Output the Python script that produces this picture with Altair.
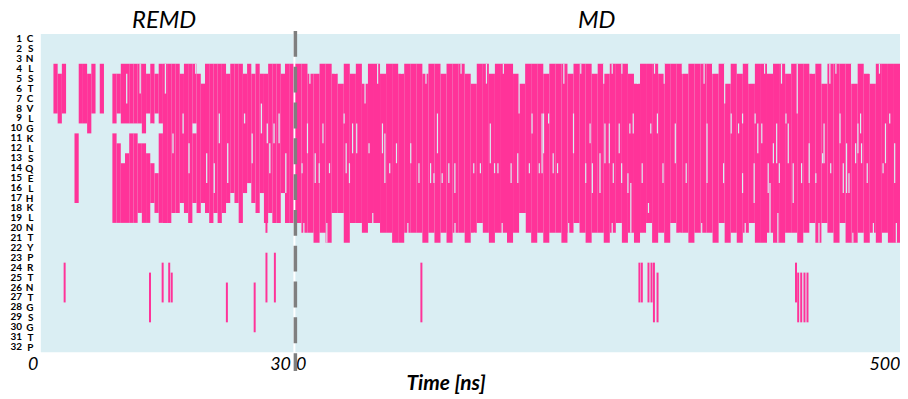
import json
import altair as alt
import pandas as pd

# ---------------- data ----------------
residues = list("CSNLSTCVLGKLSQELHKLNTYPRTNTGSGTP")
row_ids = list(range(1, 33))
panel_titles = ["REMD", "MD"]

# REMD (0-30 ns): contact strips, 0.5 ns columns (start time, first row, last row)
remd_t = [1.5, 2.0, 2.5, 4.0, 4.5, 5.0, 5.5, 6.0, 7.0,
          8.5, 8.5, 9.0, 9.0, 9.5, 9.5, 10.0, 10.0, 10.5, 10.5, 11.0, 11.0, 11.5, 11.5,
          12.0, 12.0, 12.5, 12.5, 13.0, 13.0, 13.5, 13.5, 14.0, 14.0,
          14.5, 15.0, 15.5, 16.0, 16.5, 17.0, 17.5, 18.0, 18.0, 18.5, 19.0, 19.5, 20.0,
          20.5, 21.0, 21.5, 22.0, 22.5, 23.0, 23.5, 24.0, 24.5, 25.0, 25.5, 26.0, 26.5,
          27.0, 27.5, 28.0, 28.5, 29.0, 29.5]
remd_top = [4, 5, 4, 11, 4, 4, 5, 4, 4,
            5, 11, 5, 12, 4, 14, 4, 13, 4, 11, 4, 11, 4, 12, 4, 12, 5, 13, 4, 14, 5, 15, 4, 11,
            4, 4, 4, 4, 5, 4, 4, 4, 11, 5, 6, 4, 4, 4, 4, 4, 5, 4, 4, 4, 5, 4, 5, 4, 5, 5, 4, 4, 4, 5, 4, 4]
remd_bot = [8, 9, 8, 17, 9, 9, 10, 8, 8,
            9, 19, 8, 19, 9, 19, 9, 19, 9, 19, 9, 19, 9, 18, 10, 19, 8, 19, 9, 17, 8, 18, 9, 19,
            19, 19, 18, 18, 17, 18, 19, 9, 17, 18, 17, 18, 19, 18, 19, 18, 17, 16, 17, 19, 16, 15,
            17, 18, 16, 19, 18, 19, 19, 16, 19, 19]
# REMD gaps inside the contact block (time, first row, last row)
remd_gap_t = [13.2, 14.8, 16.9, 17.6, 18.4, 19.7, 21.2, 22.2, 24.2, 25.1, 26.2, 27.2, 28.3, 29.1, 20.6, 15.7,
              26.9, 27.7, 10.2, 11.8]
remd_gap_top = [10, 4, 9, 12, 4, 13, 9, 12, 9, 11, 8, 12, 9, 13, 14, 11, 10, 10, 5, 4]
remd_gap_bot = [12, 6, 10, 14, 4, 15, 11, 15, 9, 13, 10, 14, 11, 16, 16, 12, 11, 11, 7, 6]
# REMD isolated contacts (time, first row, last row)
remd_line_t = [2.83, 12.97, 14.47, 15.25, 15.55, 22.1, 25.4, 26.8, 27.8, 26.8]
remd_line_top = [24, 25, 24, 24, 25, 26, 26, 23, 23, 18]
remd_line_bot = [27, 29, 27, 27, 27, 29, 30, 27, 27, 20]

# MD (0-500 ns): first and last contact row per 5 ns column
md_top = [4, 4, 5, 5, 4, 4, 5, 6, 4, 5, 4, 6, 4, 4, 5, 4, 4,
          5, 4, 4, 4, 5, 4, 4, 5, 4, 4, 4, 5, 6, 4, 4, 5, 4,
          4, 4, 5, 6, 4, 4, 4, 5, 4, 4, 4, 5, 4, 4, 4, 5,
          4, 5, 4, 4, 4, 5, 6, 4, 4, 4, 5, 4, 4, 4, 5, 4, 4,
          4, 4, 5, 4, 6, 4, 5, 4, 6, 4, 4, 5, 4, 4, 5, 4, 4,
          4, 5, 4, 6, 4, 4, 4, 4, 6, 4, 5, 6, 4, 4, 4, 4]
md_bot = [19, 20, 20, 21, 20, 21, 18, 18, 21, 19, 19, 20, 19, 19, 20, 20, 21,
          21, 20, 20, 20, 21, 20, 21, 20, 21, 20, 20, 21, 20, 19, 20, 21, 20,
          20, 21, 20, 18, 20, 21, 20, 21, 20, 20, 21, 20, 19, 20, 21, 20,
          20, 21, 20, 19, 21, 20, 21, 20, 19, 21, 20, 21, 19, 20, 20, 21, 20,
          20, 20, 21, 19, 21, 20, 21, 20, 19, 21, 21, 20, 21, 21, 20, 20, 21,
          20, 19, 21, 19, 20, 21, 19, 21, 21, 20, 21, 20, 21, 20, 21, 21]
# MD gaps (time, first row, last row)
md_gap_t = [40.3, 10, 22.8, 47.3, 50.7, 42, 60.9, 72, 74, 5.5, 16.4, 19.7, 28.2, 44.7, 78, 83.6,
            117.5, 95.4, 102.2, 111.8, 114.6, 121.4, 126.9, 131.9, 147.5, 153, 161.2, 164.7,
            195.7, 204, 205.2, 209.4, 230, 243.7, 178.4, 183.9, 193.5, 201.7, 213.2, 216.8, 240.1, 245.6, 167.5,
            279.4, 276.6, 299.4, 293.9, 256, 259.6, 267.8, 314.2, 251.9, 262.9, 269.8, 275, 277.4, 286.8, 304, 323.2, 292,
            360.4, 369.8, 380.2, 405.7, 340.4, 366.5, 382.4, 385.7, 398, 395.3, 407.6, 354.1, 369.8, 379.4, 391, 392.5, 400.2, 411.7,
            450.4, 467.4, 491.5, 437.2, 465.2, 488, 424.9, 436, 455.8, 463.3, 468.2, 418.6, 430.4, 442.7, 453.1, 457.8, 472.9, 486, 495.6,
            185, 415, 57.6, 355,
            12, 33, 68, 88, 108, 137, 158, 172, 222, 236, 255, 262, 270, 283, 297, 305, 320, 338, 345, 358,
            375, 388, 402, 428, 442, 447, 460, 475, 483,
            7, 26, 64, 93, 132, 148, 171, 190, 226, 262, 318, 336, 372, 399, 433, 461, 478, 497]
md_gap_top = [9, 10, 10, 10, 10, 12, 12, 10, 11, 14, 13, 14, 14, 14, 14, 12,
              9, 12, 14, 14, 15, 15, 14, 14, 14, 14, 10, 14,
              9, 9, 9, 9, 9, 10, 14, 13, 14, 14, 13, 14, 14, 14, 14,
              9, 10, 9, 10, 10, 10, 10, 10, 13, 14, 14, 15, 16, 14, 14, 14, 18,
              9, 9, 9, 9, 10, 10, 10, 10, 10, 12, 10, 14, 15, 14, 14, 16, 14, 14,
              9, 9, 9, 10, 10, 10, 12, 13, 12, 12, 12, 14, 15, 14, 14, 15, 14, 14, 12,
              4, 4, 4, 4,
              4, 4, 4, 4, 4, 4, 4, 4, 4, 4, 4, 4, 4, 4, 4, 4, 4, 4, 4, 4,
              4, 4, 4, 4, 4, 4, 4, 4, 4,
              20, 20, 19, 20, 20, 21, 20, 19, 20, 20, 21, 20, 20, 19, 20, 21, 20, 20]
md_gap_bot = [9, 12, 11, 12, 12, 14, 12, 12, 15, 14, 15, 15, 14, 15, 14, 13,
              12, 13, 15, 15, 15, 15, 15, 16, 14, 14, 13, 14,
              10, 14, 12, 9, 12, 11, 15, 15, 14, 14, 14, 14, 15, 16, 14,
              10, 10, 10, 10, 13, 13, 12, 13, 16, 15, 15, 16, 20, 15, 15, 15, 18,
              10, 9, 9, 9, 15, 10, 12, 11, 13, 13, 13, 15, 16, 17, 16, 21, 15, 17,
              11, 10, 9, 13, 12, 13, 15, 13, 16, 13, 13, 15, 15, 14, 16, 16, 15, 14, 15,
              8, 8, 7, 7,
              5, 4, 5, 4, 5, 4, 5, 4, 5, 4, 5, 4, 4, 5, 4, 5, 4, 5, 4, 4,
              5, 4, 5, 4, 5, 4, 5, 4, 4,
              21, 21, 21, 21, 21, 21, 21, 21, 21, 21, 21, 21, 21, 21, 21, 21, 21, 21]
# MD isolated contacts (time, first row, last row)
md_line_t = [104.2, 284.5, 286.5, 292.0, 294.5, 296.5, 299.5, 414.0, 415.8, 418.3, 421.0, 423.5]
md_line_top = [24, 24, 24, 24, 24, 24, 25, 24, 25, 25, 25, 25]
md_line_bot = [29, 27, 27, 27, 27, 29, 29, 27, 29, 29, 29, 29]

# ---------------- style ----------------
PINK = "#FF3399"
BG = "#DAEEF3"
GRAY = "#7F7F7F"
FONT = "Lato"
REMD_BIN = 0.5
MD_BIN = 5.0
H = 320
W_REMD = 254
W_MD = 608

yscale = alt.Scale(domain=[0.5, 32.5], reverse=True, nice=False, zero=False)


def strips(t, top, bot, width):
    df = pd.DataFrame({"t0": t, "top": top, "bot": bot})
    df["t1"] = df["t0"] + width
    df["y0"] = df["top"] - 0.5
    df["y1"] = df["bot"] + 0.5
    return df


def lines(t, top, bot):
    df = pd.DataFrame({"t0": t, "top": top, "bot": bot})
    df["y0"] = df["top"] - 0.5
    df["y1"] = df["bot"] + 0.5
    return df


remd_df = strips(remd_t, remd_top, remd_bot, REMD_BIN)
remd_gap_df = lines(remd_gap_t, remd_gap_top, remd_gap_bot)
remd_line_df = lines(remd_line_t, remd_line_top, remd_line_bot)

md_df = strips([i * MD_BIN for i in range(len(md_top))], md_top, md_bot, MD_BIN)
md_gap_df = lines(md_gap_t, md_gap_top, md_gap_bot)
md_line_df = lines(md_line_t, md_line_top, md_line_bot)

label_expr = json.dumps(residues) + "[datum.value - 1]"

# ---------------- axes (identical on every layer of a panel) ----------------
xs_remd = alt.Scale(domain=[0, 30], nice=False, zero=False)
xs_md = alt.Scale(domain=[0, 500], nice=False, zero=False)

remd_axis_x = alt.Axis(values=[0, 30], title=None, ticks=False, domain=False, grid=False,
                       labelAlign="right", labelFlush=False, labelOffset=-3,
                       labelFont=FONT, labelFontSize=18, labelFontStyle="italic",
                       labelColor="black", labelPadding=3)
remd_axis_y = alt.Axis(values=row_ids, labelExpr=label_expr, title=None, ticks=False,
                       domain=False, grid=False, labelOverlap=False, labelFont=FONT,
                       labelFontWeight="bold", labelFontSize=10, labelColor="black",
                       labelPadding=8, labelAlign="right", labelBaseline="middle")
md_axis_x = alt.Axis(values=[0, 500], title="Time [ns]", ticks=False, domain=False, grid=False,
                     labelFlush=True, labelFont=FONT, labelFontSize=18, labelFontStyle="italic",
                     labelColor="black", labelPadding=3,
                     titleFont=FONT, titleFontSize=21, titleFontWeight="bold", titleFontStyle="italic",
                     titleColor="black", titleX=151, titleY=38, titleAlign="center",
                     titleBaseline="alphabetic")


def strip_layer(df, xs, ax_x, ax_y):
    return alt.Chart(df).mark_rect(color=PINK).encode(
        x=alt.X("t0:Q", scale=xs, axis=ax_x),
        x2="t1:Q",
        y=alt.Y("y0:Q", scale=yscale, axis=ax_y),
        y2="y1:Q",
    )


def rule_layer(df, xs, ax_x, ax_y, color, width):
    return alt.Chart(df).mark_rule(color=color, strokeWidth=width).encode(
        x=alt.X("t0:Q", scale=xs, axis=ax_x),
        y=alt.Y("y0:Q", scale=yscale, axis=ax_y),
        y2="y1:Q",
    )


def panel_title(text, xpos):
    return alt.Chart(pd.DataFrame({"s": [text]})).mark_text(
        font=FONT, fontSize=24, fontStyle="italic", color="black",
        align="center", baseline="alphabetic",
    ).encode(text="s:N", x=alt.value(xpos), y=alt.value(-6))


# ---------------- REMD panel ----------------
numbers = alt.Chart(pd.DataFrame({"y0": row_ids})).mark_text(
    align="right", baseline="middle", font=FONT, fontWeight="bold", fontSize=10, color="black"
).encode(y=alt.Y("y0:Q", scale=yscale, axis=remd_axis_y), text="y0:Q", x=alt.value(-19))

remd = alt.layer(
    strip_layer(remd_df, xs_remd, remd_axis_x, remd_axis_y),
    rule_layer(remd_gap_df, xs_remd, remd_axis_x, remd_axis_y, BG, 1.3),
    rule_layer(remd_line_df, xs_remd, remd_axis_x, remd_axis_y, PINK, 2),
    numbers,
    panel_title(panel_titles[0], W_REMD / 2 - 3),
).properties(width=W_REMD, height=H)

# ---------------- MD panel ----------------
divider = alt.Chart(pd.DataFrame({"t0": [0]})).mark_rule(
    color=GRAY, strokeWidth=3.5, strokeDash=[26, 10]
).encode(x=alt.X("t0:Q", scale=xs_md, axis=md_axis_x), y=alt.value(-3), y2=alt.value(H + 19))

md = alt.layer(
    strip_layer(md_df, xs_md, md_axis_x, None),
    rule_layer(md_gap_df, xs_md, md_axis_x, None, BG, 1.2),
    rule_layer(md_line_df, xs_md, md_axis_x, None, PINK, 2),
    divider,
    panel_title(panel_titles[1], W_MD / 2 - 1),
).properties(width=W_MD, height=H)

chart = alt.hconcat(remd, md, spacing=0).configure_view(
    fill=BG, strokeWidth=0
).properties(padding={"left": 2, "top": 0, "right": 0, "bottom": 0})

chart.save("out.html", embed_options={"renderer": "svg", "actions": False})
